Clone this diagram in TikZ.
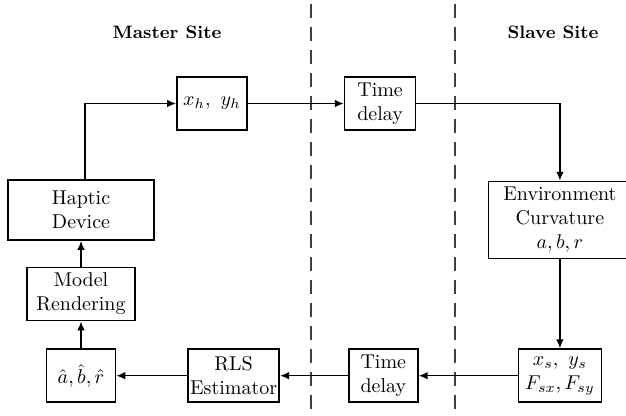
\documentclass[tikz,border=0pt]{standalone}
\usepackage{amsmath}
\usetikzlibrary{positioning,arrows.meta}

\begin{document}
\begin{tikzpicture}[
  x=0.5pt, y=-0.5pt,
  node distance=13pt and 35pt,
  box/.style={draw, line width=0.8pt, align=center, inner sep=2pt,
              minimum height=26.5pt},
  title/.style={font=\small\bfseries},
  flow/.style={-{Latex[length=4.5pt,width=3.8pt]}, line width=0.8pt},
  divider/.style={dash pattern=on 7pt off 4.5pt, line width=0.7pt, black!75}
]
\useasboundingbox (0,0) rectangle (626,416);
% site headings
\node[title] (master) at (167,32) {Master Site};
\node[title] (slave)  at (553,32) {Slave Site};
% channel boundaries
\draw[divider] (311,4) -- (311,412);
\draw[divider] (455,4) -- (455,412);
% master side
\node[box, minimum width=73pt, minimum height=30pt] (haptic) at (81,210) {Haptic\\Device};
\node[box, minimum width=54pt, below=13pt of haptic] (model) {Model\\Rendering};
\node[box, minimum width=34.5pt, below=13.5pt of model] (est) {$\hat a, \hat b, \hat r$};
\node[box, minimum width=35pt] (pos) at (212,103.5) {$x_h,\ y_h$};
% forward channel
\node[box, minimum width=35.5pt, right=48pt of pos] (delayfwd) {Time\\delay};
% return path (bottom row)
\node[box, inner xsep=1pt, minimum width=45.5pt, right=35.5pt of est] (rls) {RLS\\Estimator};
\node[box, minimum width=34.5pt, right=34pt of rls] (delaybwd) {Time\\delay};
\node[box, minimum width=41.5pt, right=49.5pt of delaybwd] (meas) {$x_s,\ y_s$\\$F_{sx}, F_{sy}$};
% slave side
\node[box, minimum width=71.5pt, minimum height=38.5pt, above=44.5pt of meas] (env)
  {Environment\\Curvature\\$a, b, r$};
% forward flow
\draw[flow] ([xshift=2pt]haptic.north) |- (pos.west);
\draw[flow] (pos) -- (delayfwd);
\draw[flow] (delayfwd) -| (env);
\draw[flow] (env) -- (meas);
% feedback flow
\draw[flow] (meas) -- (delaybwd);
\draw[flow] (delaybwd) -- (rls);
\draw[flow] (rls) -- (est);
\draw[flow] (est) -- (model);
\draw[flow] (model) -- (haptic);
\end{tikzpicture}
\end{document}
